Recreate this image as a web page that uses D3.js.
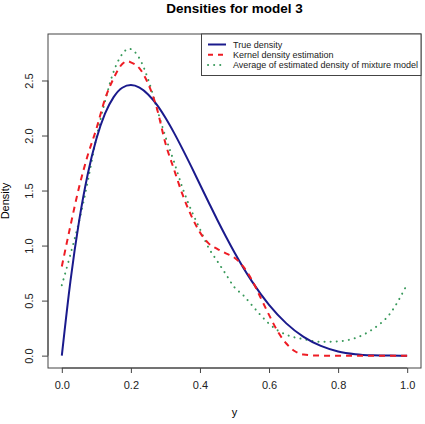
<!DOCTYPE html>
<meta charset="utf-8">
<script src="https://cdn.jsdelivr.net/npm/d3@7/dist/d3.min.js"></script>
<style>
  body { margin: 0; background: #fff; }
  text { font-family: "Liberation Sans", Arial, sans-serif; }
</style>
<body>
<div id="chart"></div>
<script>

// ----- data
var trueX = [0, 0.025, 0.05, 0.075, 0.1, 0.125, 0.15, 0.175, 0.2, 0.225, 0.25, 0.275, 0.3, 0.325, 0.35, 0.375,
             0.4, 0.425, 0.45, 0.475, 0.5, 0.55, 0.6, 0.65, 0.7, 0.75, 0.8, 0.85, 0.9, 0.95, 1.0]
var trueY = [0, 0.678, 1.222, 1.648, 1.968, 2.198, 2.349, 2.434, 2.458, 2.435, 2.373, 2.280, 2.161, 2.024, 1.874, 1.717,
             1.555, 1.394, 1.235, 1.083, 0.938, 0.677, 0.461, 0.293, 0.170, 0.088, 0.038, 0.013, 0.003, 0.0002, 0]

var kdeX = [0, 0.025, 0.05, 0.075, 0.1, 0.125, 0.15, 0.175, 0.19, 0.2, 0.225, 0.25, 0.275, 0.3, 0.325, 0.35, 0.375,
            0.4, 0.425, 0.45, 0.475, 0.5, 0.525, 0.55, 0.575, 0.6, 0.625, 0.65, 0.675, 0.7, 0.75, 0.8, 0.9, 1.0]
var kdeY = [0.81, 1.18, 1.53, 1.82, 2.06, 2.33, 2.52, 2.65, 2.675, 2.665, 2.61, 2.47, 2.25, 1.93, 1.69, 1.46, 1.27,
            1.12, 1.02, 0.97, 0.93, 0.89, 0.81, 0.69, 0.53, 0.37, 0.22, 0.11, 0.04, 0.01, 0.0, 0.0, 0.0, 0.0]

var mixX = [0, 0.025, 0.05, 0.075, 0.1, 0.125, 0.15, 0.175, 0.195, 0.2, 0.225, 0.25, 0.275, 0.3, 0.325, 0.35, 0.375,
            0.4, 0.425, 0.45, 0.475, 0.5, 0.525, 0.55, 0.575, 0.6, 0.625, 0.65, 0.675, 0.7, 0.75, 0.8, 0.85, 0.9, 0.95, 1.0]
var mixY = [0.64, 0.92, 1.22, 1.58, 1.98, 2.31, 2.58, 2.74, 2.79, 2.785, 2.70, 2.51, 2.25, 1.99, 1.76, 1.52, 1.32,
            1.15, 0.98, 0.86, 0.74, 0.62, 0.55, 0.46, 0.37, 0.29, 0.23, 0.19, 0.165, 0.15, 0.125, 0.13, 0.16, 0.24, 0.38, 0.65]

var xTicks = [0, 0.2, 0.4, 0.6, 0.8, 1.0]
var yTicks = [0, 0.5, 1.0, 1.5, 2.0, 2.5]
var legendLabels = ["True density", "Kernel density estimation", "Average of estimated density of mixture model"]

var W = 425, H = 424
var box = {left : 48, right : 421, top : 34, bottom : 368}

var svg = d3.select("#chart")
            .append("svg")
            .attr("width", W)
            .attr("height", H)

// R style: 4% padding on each side of the data range
var xScale = d3.scaleLinear()
               .domain([-0.04, 1.04])
               .range([box.left, box.right])
var yScale = d3.scaleLinear()
               .domain([-0.1124, 2.9224])
               .range([box.bottom, box.top])

// ----- curves
var line = d3.line()
             .x(function(d) { return xScale(d[0]) })
             .y(function(d) { return yScale(d[1]) })
             .curve(d3.curveMonotoneX)

function pairs(xs, ys) {
  return xs.map(function(x, i) { return [x, ys[i]] })
}

svg.append("path")
   .attr("d", line(pairs(mixX, mixY)))
   .attr("fill", "none")
   .attr("stroke", "#3a9a5c")
   .attr("stroke-width", 2)
   .attr("stroke-linecap", "round")
   .attr("stroke-dasharray", "0.1,6")

svg.append("path")
   .attr("d", line(pairs(trueX, trueY)))
   .attr("fill", "none")
   .attr("stroke", "#1a1a8c")
   .attr("stroke-width", 2)

svg.append("path")
   .attr("d", line(pairs(kdeX, kdeY)))
   .attr("fill", "none")
   .attr("stroke", "#ee1c24")
   .attr("stroke-width", 2)
   .attr("stroke-dasharray", "6,5")

// ----- box and axes
svg.append("rect")
   .attr("x", box.left)
   .attr("y", box.top)
   .attr("width", box.right - box.left)
   .attr("height", box.bottom - box.top)
   .attr("fill", "none")
   .attr("stroke", "#444")
   .attr("stroke-width", 1)

var xAxis = svg.append("g")
   .attr("transform", "translate(0," + box.bottom + ")")
   .call(d3.axisBottom(xScale).tickValues(xTicks).tickFormat(d3.format(".1f")).tickSize(5).tickPadding(8))
xAxis.select(".domain")
   .attr("d", "M" + xScale(0) + ",0H" + xScale(1))
   .attr("stroke", "#444")

var yAxis = svg.append("g")
   .attr("transform", "translate(" + box.left + ",0)")
   .call(d3.axisLeft(yScale).tickValues(yTicks).tickFormat(d3.format(".1f")).tickSize(6))
yAxis.select(".domain")
   .attr("d", "M0," + yScale(0) + "V" + yScale(2.5))
   .attr("stroke", "#444")

svg.selectAll(".tick line").attr("stroke", "#444")
svg.selectAll(".tick text")
   .style("font-size", "11px")
   .style("font-family", "'Liberation Sans', Arial, sans-serif")
   .attr("fill", "#222")

// rotate y tick labels like R's default las=0
yAxis.selectAll(".tick text")
   .attr("x", null)
   .attr("dy", null)
   .attr("text-anchor", "middle")
   .attr("transform", "translate(-15,0) rotate(-90)")

// ----- titles
svg.append("text")
   .attr("x", (box.left + box.right) / 2)
   .attr("y", 13)
   .attr("text-anchor", "middle")
   .style("font-size", "13.5px")
   .style("font-weight", "bold")
   .text("Densities for model 3")

svg.append("text")
   .attr("x", (box.left + box.right) / 2)
   .attr("y", 416)
   .attr("text-anchor", "middle")
   .style("font-size", "11px")
   .text("y")

svg.append("text")
   .attr("transform", "translate(9," + ((box.top + box.bottom) / 2) + ") rotate(-90)")
   .attr("text-anchor", "middle")
   .style("font-size", "11px")
   .text("Density")

// ----- legend
var legend = svg.append("g")
svg.append("rect")
   .attr("x", 201.5)
   .attr("y", box.top)
   .attr("width", box.right - 201.5)
   .attr("height", 41.5)
   .attr("fill", "#fff")
   .attr("stroke", "#444")
   .attr("stroke-width", 1)

var legendColors = ["#1a1a8c", "#ee1c24", "#3a9a5c"]
var legendDash = [null, "5,5", "0.1,6"]
for (var i = 0; i < legendLabels.length; i++) {
  var yy = 44.5 + i * 10.3
  svg.append("line")
     .attr("x1", 208)
     .attr("x2", 226)
     .attr("y1", yy)
     .attr("y2", yy)
     .attr("stroke", legendColors[i])
     .attr("stroke-width", 2)
     .attr("stroke-linecap", i == 2 ? "round" : "butt")
     .attr("stroke-dasharray", legendDash[i])
  svg.append("text")
     .attr("x", 233)
     .attr("y", yy + 3.2)
     .style("font-size", "9px")
     .attr("fill", "#222")
     .text(legendLabels[i])
}

</script>
</body>
